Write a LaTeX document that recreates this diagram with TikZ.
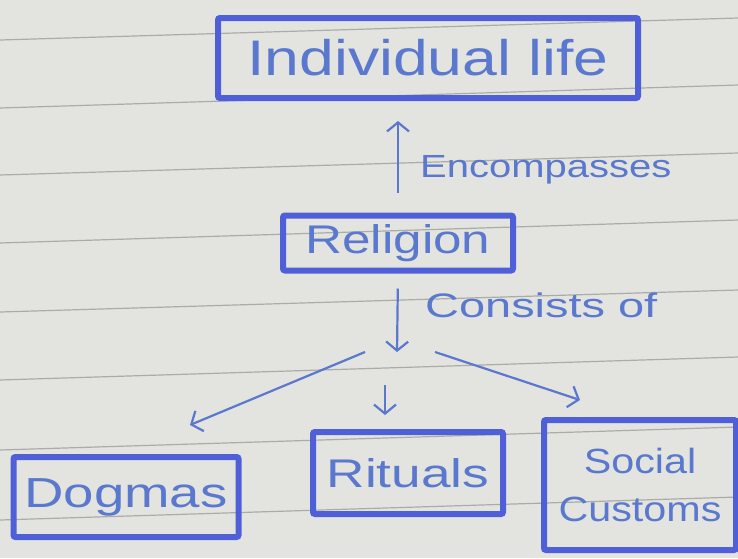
\documentclass[tikz,border=0pt]{standalone}
\usepackage{fontspec}
\setmainfont{Liberation Sans}
\usetikzlibrary{arrows.meta}
\definecolor{paper}{HTML}{E3E3DF}
\definecolor{ruling}{HTML}{ABABA8}
\definecolor{ink}{HTML}{4E5FD8}
\definecolor{inktext}{HTML}{5A78CE}
\newcommand{\hfnt}[3]{\fontsize{#1}{#2}\selectfont\addfontfeature{FakeStretch=#3}}
\tikzset{
  box/.style={draw=ink, line width=6pt, rounded corners=2pt, inner sep=0pt, text=inktext, align=center},
  conn/.style={draw=inktext, line width=2.2pt, -{Straight Barb[length=9pt,width=22pt,line width=2.2pt]}},
  lbl/.style={text=inktext, anchor=west, inner sep=0pt},
  rule/.style={draw=ruling, line width=1.2pt}
}
\begin{document}
\begin{tikzpicture}[x=1pt,y=-1pt]
\fill[paper] (0,0) rectangle (738,558);
\useasboundingbox (0,0) rectangle (738,558);
% paper rulings
\foreach \l/\r in {40/18,108/85,175/153,243/220,312/290,380/357,450/427,520/497}
  \draw[rule] (0,\l) -- (738,\r);
% nodes
\node[box, minimum width=420pt, minimum height=80pt, font=\hfnt{50}{56}{1.25}] (life) at (428,58) {Individual life};
\node[box, minimum width=230pt, minimum height=55pt, font=\hfnt{40}{46}{1.28}] (rel) at (398,243) {Religion};
\node[box, minimum width=225pt, minimum height=80pt, font=\hfnt{42}{48}{1.3}] (dog) at (126,497) {Dogmas};
\node[box, minimum width=190pt, minimum height=82pt, font=\hfnt{40}{46}{1.33}] (rit) at (408,473) {Rituals};
\node[box, minimum width=192pt, minimum height=130pt, font=\hfnt{35}{48}{1.18}] (soc) at (640,485) {Social\\Customs};
% connectors
\draw[conn, shorten <=20pt, shorten >=20pt] (rel.north) -- (rel.north |- life.south);
\node[lbl, font=\hfnt{32}{38}{1.25}] (enc) at (420,170) {Encompasses};
\coordinate (hub) at (397,352);
\draw[conn, shorten <=15pt] (rel.south) -- (hub);
\node[lbl, font=\hfnt{34}{40}{1.38}] (cons) at (425,305) {Consists of};
\coordinate (dl) at (190,425);
\coordinate (hl) at (365,352);
\coordinate (hm) at (385,385);
\coordinate (dm) at (385,415);
\coordinate (hr) at (435,352);
\coordinate (dr) at (580,400);
\draw[conn] (hl) -- (dl);
\draw[conn] (hm) -- (dm);
\draw[conn] (hr) -- (dr);
\end{tikzpicture}
\end{document}
